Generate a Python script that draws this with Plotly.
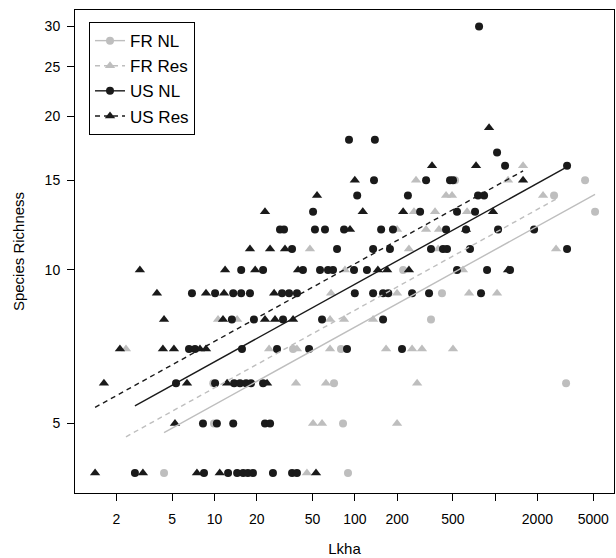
import numpy as np
import plotly.graph_objects as go

# ---------------- data ----------------
# US, natural landscapes (black circles)
us_nl_x = [2.71, 8.42, 12.5, 14.5, 16.0, 17.3, 18.8, 26.1, 35.7, 38.7,
           8.28, 10.4, 13.6, 22.9, 24.9,
           5.32, 10.1, 13.8, 15.2, 16.8, 18.2, 22.2,
           6.58, 7.26, 15.7, 27.9, 47.2, 88.0, 217,
           13.3, 19.1, 30.8, 58.4, 159,
           6.91, 10.1, 13.6, 15.5, 17.9, 30.3, 34.0, 38.7, 100, 135, 159, 173, 256, 338, 793,
           15.5, 22.2, 42.7, 56.5, 64.4, 69.9, 98.7, 122, 535, 876, 1277,
           35.7, 74.7, 135, 178, 349, 425, 454, 662, 3255,
           29.3, 31.3, 52.0, 61.3, 83.8, 154, 187, 447, 620, 1049, 1894,
           50.4, 292, 535, 719,
           104, 239, 755, 834,
           137, 322, 477, 501,
           1177, 3255,
           1032,
           90.9, 139,
           768]
us_nl_y = [4, 4, 4, 4, 4, 4, 4, 4, 4, 4,
           5, 5, 5, 5, 5,
           6, 6, 6, 6, 6, 6, 6,
           7, 7, 7, 7, 7, 7, 7,
           8, 8, 8, 8, 8,
           9, 9, 9, 9, 9, 9, 9, 9, 9, 9, 9, 9, 9, 9, 9,
           10, 10, 10, 10, 10, 10, 10, 10, 10, 10, 10,
           11, 11, 11, 11, 11, 11, 11, 11, 11,
           12, 12, 12, 12, 12, 12, 12, 12, 12, 12, 12,
           13, 13, 13, 13,
           14, 14, 14, 14,
           15, 15, 15, 15,
           16, 16,
           17,
           18, 18,
           30]

# US, reserves (black triangles)
us_res_x = [1.41, 3.09, 7.50, 10.9, 52.9,
            5.23,
            1.63, 6.37, 12.3, 23.7,
            2.12, 4.29, 5.14, 7.88, 8.70,
            4.37, 11.5, 22.9, 27.0, 36.3,
            3.89, 8.70, 11.7, 26.6,
            2.94, 11.9, 19.5, 39.4, 146, 170, 243, 1236,
            17.9, 24.9, 31.8,
            92.4, 620,
            22.9, 114, 221, 966,
            53.8,
            100, 1581,
            355, 731,
            905]
us_res_y = [4, 4, 4, 4, 4,
            5,
            6, 6, 6, 6,
            7, 7, 7, 7, 7,
            8, 8, 8, 8, 8,
            9, 9, 9, 9,
            10, 10, 10, 10, 10, 10, 10, 10,
            11, 11, 11,
            12, 12,
            13, 13, 13, 13,
            14,
            15, 15,
            16, 16,
            19]

# France, natural landscapes (grey circles)
fr_nl_x = [4.37, 89.4,
           9.92, 82.4,
           9.8, 71.1, 3202,
           36.3, 79.7,
           349,
           418,
           221,
           5153,
           2629,
           518, 4373]
fr_nl_y = [4, 4,
           5, 5,
           6, 6, 6,
           7, 7,
           8,
           9,
           10,
           13,
           14,
           15, 15]

# France, reserves (grey triangles)
fr_res_x = [45.6,
            50.4, 58.4, 200,
            38.1, 62.3, 278,
            2.34, 24.5, 38.7, 66.6, 167, 256, 301, 501,
            10.6, 14.5, 66.6, 83.8, 135,
            67.7, 200, 652, 1032,
            85.1, 590,
            47.9, 243, 392, 2717,
            200, 322, 398,
            114, 264, 373, 631,
            447, 493, 2195,
            273, 1236,
            1581]
fr_res_y = [4,
            5, 5, 5,
            6, 6, 6,
            7, 7, 7, 7, 7, 7, 7, 7,
            8, 8, 8, 8, 8,
            9, 9, 9, 9,
            10, 10,
            11, 11, 11, 11,
            12, 12, 12,
            13, 13, 13, 13,
            14, 14, 14,
            15, 15,
            16]

# fitted log-log lines: log10(S) = intercept + slope * log10(Lkha)
fit_slope = {"FR NL": 0.152, "FR Res": 0.152, "US NL": 0.152, "US Res": 0.152}
fit_intercept = {"FR NL": 0.584, "FR Res": 0.617, "US NL": 0.668, "US Res": 0.708}

x_tick_vals = [2, 5, 10, 20, 50, 100, 200, 500, 1000, 2000, 5000]
x_tick_text = ["2", "5", "10", "20", "50", "100", "200", "500", "", "2000", "5000"]
y_tick_vals = [5, 10, 15, 20, 25, 30]

# ---------------- styling ----------------
GREY = "#bebebe"
BLACK = "#1a1a1a"
FONT = "Liberation Sans, Arial, Helvetica, sans-serif"

series = [
    ("FR NL", fr_nl_x, fr_nl_y, GREY, "circle", 8, "solid"),
    ("FR Res", fr_res_x, fr_res_y, GREY, "triangle-up", 9, "5px,4px"),
    ("US NL", us_nl_x, us_nl_y, BLACK, "circle", 8, "solid"),
    ("US Res", us_res_x, us_res_y, BLACK, "triangle-up", 9, "5px,4px"),
]

fig = go.Figure()

for name, xs, ys, col, sym, sz, dash in series:
    fig.add_trace(go.Scatter(
        x=xs, y=ys, mode="markers", showlegend=False,
        marker=dict(symbol=sym, size=sz, color=col, line=dict(width=0)),
        hoverinfo="x+y", name=name))

for name, xs, ys, col, sym, sz, dash in series:
    xr = np.array([min(xs), max(xs)])
    yr = 10 ** (fit_intercept[name] + fit_slope[name] * np.log10(xr))
    fig.add_trace(go.Scatter(
        x=xr, y=yr, mode="lines", showlegend=False,
        line=dict(color=col, width=1.4, dash=dash), hoverinfo="skip"))

for name, xs, ys, col, sym, sz, dash in series:
    fig.add_trace(go.Scatter(
        x=[None], y=[None], mode="lines+markers", name=name,
        line=dict(color=col, width=1.4, dash=dash),
        marker=dict(symbol=sym, size=sz, color=col, line=dict(width=0))))

axis_common = dict(
    type="log", showgrid=False, zeroline=False,
    showline=True, linecolor="black", linewidth=1, mirror=True,
    ticks="outside", ticklen=7, tickwidth=1, tickcolor="black",
    tickfont=dict(family=FONT, size=14, color="black"),
)

fig.update_layout(
    width=616, height=558,
    margin=dict(l=75, r=2, t=10, b=65),
    paper_bgcolor="white", plot_bgcolor="white",
    font=dict(family=FONT, color="black"),
    xaxis=dict(**axis_common, range=[0.006, 3.847],
               tickmode="array", tickvals=x_tick_vals, ticktext=x_tick_text,
               ticklabelstandoff=6,
               title=dict(text="Lkha", font=dict(family=FONT, size=15), standoff=17)),
    yaxis=dict(**axis_common, range=[0.5629, 1.5096],
               tickmode="array", tickvals=y_tick_vals,
               ticktext=[str(v) for v in y_tick_vals],
               ticklabelstandoff=4,
               title=dict(text="Species Richness", font=dict(family=FONT, size=15), standoff=16)),
    legend=dict(x=0.026, y=0.975, xanchor="left", yanchor="top",
                bordercolor="black", borderwidth=1, bgcolor="white",
                font=dict(family=FONT, size=17, color="black"),
                traceorder="normal", itemwidth=30),
)

fig.write_html("out.html")
